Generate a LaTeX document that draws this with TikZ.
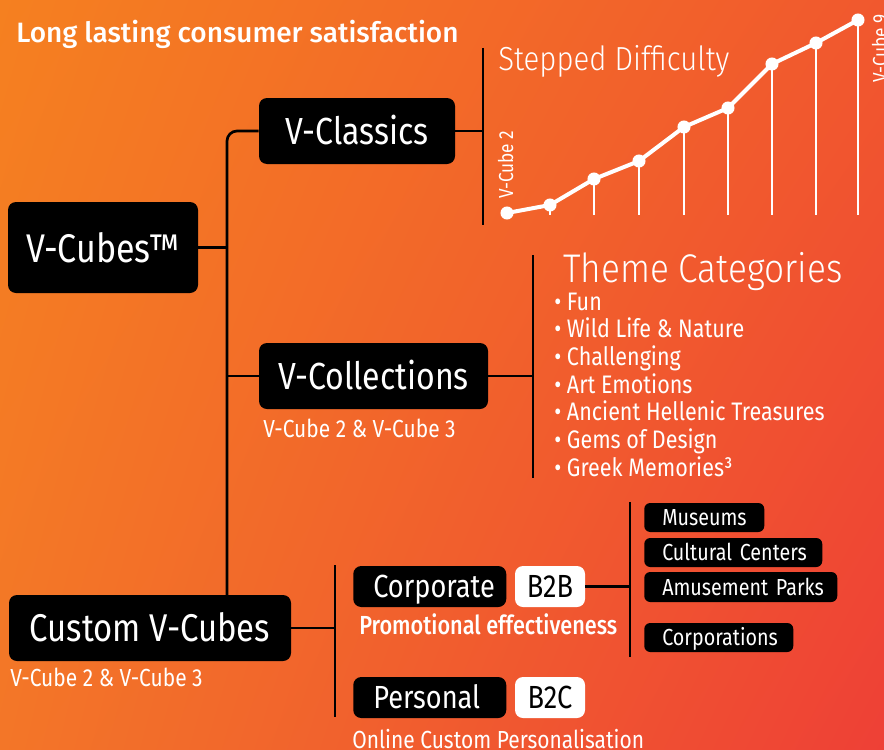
\documentclass[tikz,border=0pt]{standalone}
\usepackage{fontspec}
\setmainfont{Fira Sans}[FakeStretch=0.85]
\newfontfamily\lightfont{Fira Sans Light}[FakeStretch=0.88]
\newfontfamily\mediumfont{Fira Sans Medium}[FakeStretch=0.83]
\newfontfamily\titlefont{Fira Sans Medium}
\usetikzlibrary{shadings}
\definecolor{bgorange}{RGB}{245,128,32}
\definecolor{bgorangered}{RGB}{241,88,46}
\definecolor{bglowleft}{RGB}{243,118,40}
\definecolor{bgred}{RGB}{238,64,54}

\tikzset{
  darkbox/.style={fill=black, text=white, rounded corners=6pt, inner sep=0pt, text depth=0pt},
  whitebox/.style={fill=white, text=black, rounded corners=6pt, inner sep=0pt, text depth=0pt},
  leftbox/.style={darkbox, anchor=west, text width=#1, align=left,
    execute at begin node=\hspace*{15pt}},
  tagbox/.style={darkbox, rounded corners=4.5pt, anchor=west, text width=#1, align=left,
    minimum height=21.75pt, text height=12pt, font=\fontsize{17.4}{20}\selectfont,
    execute at begin node=\hspace*{13.5pt}},
  link/.style={line width=2pt, black},
  whitetext/.style={text=white, inner sep=0pt, anchor=base west},
  curve/.style={white, line width=3pt, line join=round},
  tick/.style={white, line width=1.1pt},
}

\begin{document}
\begin{tikzpicture}[x=0.75pt, y=-0.75pt]
  % background
  \shade[upper left=bgorange, upper right=bgorangered, lower left=bglowleft, lower right=bgred]
    (0,0) rectangle (884,749);
  \useasboundingbox (0,0) rectangle (884,749);

  % title
  \node[whitetext, font=\titlefont\fontsize{21}{24}\selectfont] (title) at (16,43)
    {Long lasting consumer satisfaction};

  % main boxes
  \node[darkbox, minimum width=142.5pt, minimum height=68.25pt, text height=21.75pt,
    font=\fontsize{30}{34}\selectfont] (vcubes) at (103,247.5) {V-Cubes™};
  \node[darkbox, minimum width=147pt, minimum height=49.5pt, text height=19.5pt,
    font=\fontsize{28.3}{32}\selectfont] (vclassics) at (357,131) {V-Classics};
  \node[darkbox, minimum width=171.75pt, minimum height=49.5pt, text height=19.5pt,
    font=\fontsize{28.3}{32}\selectfont] (vcollections) at (373.5,376) {V-Collections};
  \node[darkbox, minimum width=211.5pt, minimum height=49.5pt, text height=20.5pt,
    font=\fontsize{29}{33}\selectfont] (custom) at (150,628) {Custom V-Cubes};

  % trunk
  \coordinate (trunkend) at (227,595);
  \draw[link, rounded corners=7.5pt] (vclassics.west) -| (trunkend);
  \draw[link] (vcubes.east) -- (vcubes.east -| trunkend);
  \draw[link] (vcollections.west) -- (vcollections.west -| trunkend);

  % sub labels
  \node[whitetext, font=\fontsize{18.5}{22}\selectfont] (collsub) at (263,437) {V-Cube 2 \& V-Cube 3};
  \node[whitetext, font=\fontsize{18.5}{22}\selectfont] (customsub) at (10,686) {V-Cube 2 \& V-Cube 3};

  % stepped difficulty
  \coordinate (classtop) at (483,48);
  \coordinate (classbot) at (483,225);
  \draw[link] (classtop) -- (classbot);
  \draw[link] (vclassics.east) -- (vclassics.east -| classtop);
  \node[whitetext, font=\lightfont\fontsize{25}{28}\selectfont] (stepped) at (498,70) {Stepped Difficulty};
  \coordinate (chartbase) at (0,215);
  \foreach \px/\py [count=\i] in {507/213, 550/205, 594/179, 639/161, 684/127, 728/108, 772/64, 816/43, 858/20}
    \coordinate (p\i) at (\px,\py);
  \foreach \i in {2,...,9}
    \draw[tick] (p\i) -- (p\i |- chartbase);
  \draw[curve] (p1) \foreach \i in {2,...,9} { -- (p\i) };
  \foreach \i in {1,...,9}
    \fill[white] (p\i) circle (4.9pt);
  \node[whitetext, rotate=90, font=\fontsize{15.2}{17}\selectfont] (cube2) at (513,199) {V-Cube 2};
  \node[whitetext, rotate=90, font=\fontsize{15.2}{17}\selectfont] (cube9) at (887,83) {V-Cube 9};

  % theme categories
  \coordinate (themetop) at (533,255);
  \coordinate (themebot) at (533,478);
  \draw[link] (themetop) -- (themebot);
  \draw[link] (vcollections.east) -- (vcollections.east -| themetop);
  \node[whitetext, font=\lightfont\fontsize{30}{33}\selectfont] (themes) at (563,282) {Theme Categories};
  \foreach \item [count=\i] in {Fun, Wild Life \& Nature, Challenging, Art Emotions,
      Ancient Hellenic Treasures, Gems of Design, Greek Memories³}
    \node[whitetext, font=\fontsize{19}{22}\selectfont] (theme\i) at ({554},{310+(\i-1)*27.7}) {• \item};

  % custom branch
  \coordinate (custtop) at (335,565);
  \coordinate (custbot) at (335,717);
  \draw[link] (custtop) -- (custbot);
  \draw[link] (custom.east) -- (custom.east -| custtop);
  \node[leftbox=114.75pt, minimum height=30.75pt, text height=16.5pt,
    font=\fontsize{24}{27}\selectfont] (corporate) at (353,586.5) {Corporate};
  \node[whitebox, minimum width=52.5pt, minimum height=30.75pt, text height=16.5pt,
    font=\fontsize{24}{27}\selectfont] (b2b) at (550,586.5) {B2B};
  \node[leftbox=114.75pt, minimum height=30.75pt, text height=16.5pt,
    font=\fontsize{24}{27}\selectfont] (personal) at (353,697.5) {Personal};
  \node[whitebox, minimum width=52.5pt, minimum height=30.75pt, text height=16.5pt,
    font=\fontsize{24}{27}\selectfont] (b2c) at (550,697.5) {B2C};
  \node[whitetext, font=\mediumfont\fontsize{19.6}{22}\selectfont] (promo) at (359,634) {Promotional effectiveness};
  \node[whitetext, font=\fontsize{18.5}{22}\selectfont] (online) at (352,748) {Online Custom Personalisation};

  % B2B targets
  \coordinate (b2btop) at (630,502);
  \coordinate (b2bbot) at (630,657);
  \draw[link] (b2btop) -- (b2bbot);
  \draw[link] (b2b.east) -- (b2b.east -| b2btop);
  \node[tagbox=90pt] (museums) at (644,517.5) {Museums};
  \node[tagbox=133.5pt] (cultural) at (644,552.5) {Cultural Centers};
  \node[tagbox=144.75pt, minimum height=22.5pt] (amusement) at (644,587) {Amusement Parks};
  \node[tagbox=111.75pt] (corporations) at (644,637.5) {Corporations};
\end{tikzpicture}
\end{document}
